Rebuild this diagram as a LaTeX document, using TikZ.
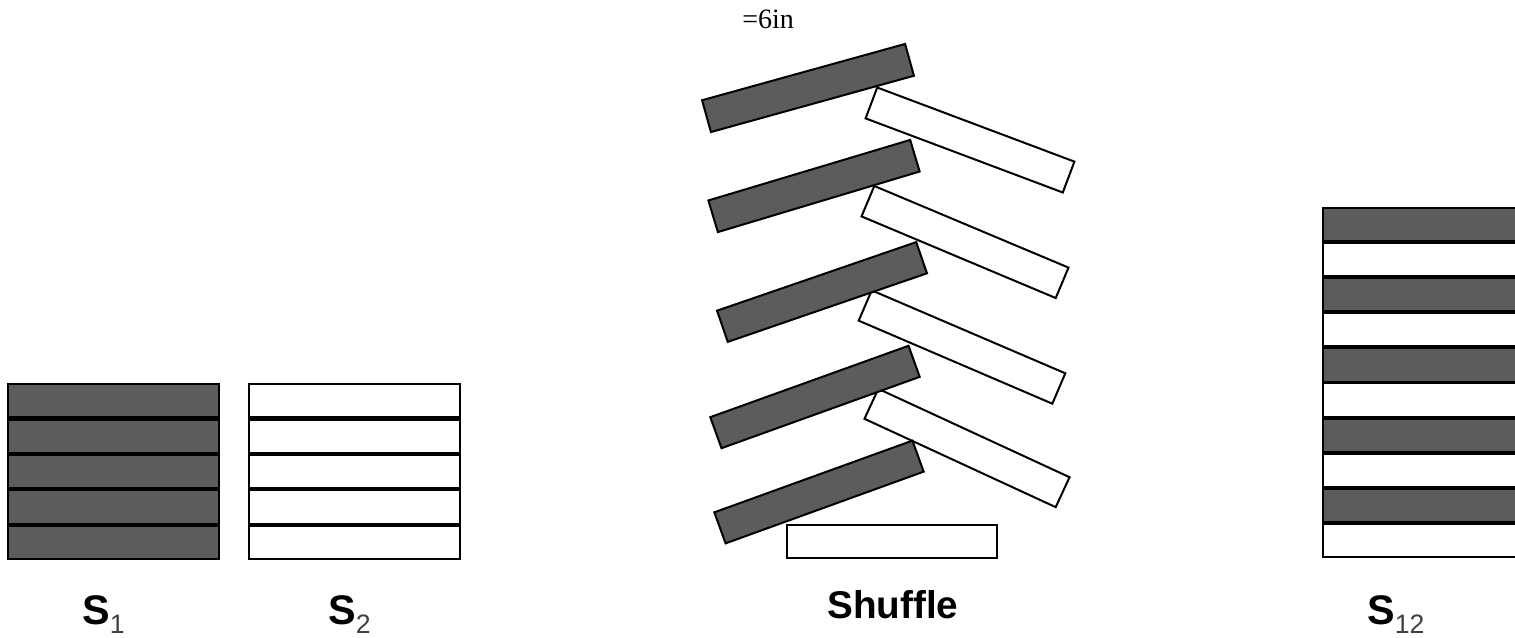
\documentclass[tikz,border=0pt]{standalone}
\usepackage{fontspec}
\setmainfont{Liberation Sans}
\newfontfamily\timesfont{Liberation Serif}
\newcommand\subidx[1]{\raisebox{-0.22em}{\mdseries\fontsize{20}{20}\selectfont\color{black!75}#1}}
\tikzset{
  card/.style={draw=black, line width=1.5pt, inner sep=0pt,
    minimum width=158pt, minimum height=24.75pt},
  darkcard/.style={card, fill=black!64},
  whitecard/.style={card, fill=white},
  stacked/.style={line width=1.6pt, minimum height=25pt},
  decklabel/.style={anchor=base west, inner sep=0pt,
    font=\fontsize{31}{31}\selectfont\bfseries}
}
\begin{document}
\begin{tikzpicture}[x=0.75pt,y=-0.75pt]
    \useasboundingbox (0,0) rectangle (1515,638);
    \node[anchor=base west, inner sep=0pt, font=\timesfont\fontsize{21}{21}\selectfont] (width) at (742,29) {=6in};
    %% first deck, all dark
    \foreach \i in {0,...,4}
        \node[darkcard,stacked] (a\i) at (113.5,{400.7+35.4*\i}) {};
    \node[decklabel] (sa) at (82,624) {S\subidx{1}};
    %% second deck, all white
    \foreach \i in {0,...,4}
        \node[whitecard,stacked] (b\i) at (354.5,{400.7+35.4*\i}) {};
    \node[decklabel] (sb) at (328,624) {S\subidx{2}};
    %% the shuffle: white cards falling in from the right
    \node[whitecard,rotate=-20.6] (w1) at (970,140) {};
    \node[whitecard,rotate=-22.8] (w2) at (965,242) {};
    \node[whitecard,rotate=-23.2] (w3) at (962,347) {};
    \node[whitecard,rotate=-24.8] (w4) at (967,448) {};
    \node[whitecard] (w5) at (892,541) {};
    %% dark cards falling in from the left
    \node[darkcard,rotate=15.5] (d1) at (808,88) {};
    \node[darkcard,rotate=16.7] (d2) at (814,186) {};
    \node[darkcard,rotate=19.0] (d3) at (822,292) {};
    \node[darkcard,rotate=19.8] (d4) at (815,397) {};
    \node[darkcard,rotate=19.9] (d5) at (819,492) {};
    \node[decklabel, font=\fontsize{29}{29}\selectfont\bfseries] (sh) at (827,618) {Shuffle};
    %% merged deck, alternating
    \foreach \i in {0,2,4,6,8}
        \node[darkcard,stacked] (c\i) at (1428.5,{224.5+35.1*\i}) {};
    \foreach \i in {1,3,5,7,9}
        \node[whitecard,stacked] (c\i) at (1428.5,{224.5+35.1*\i}) {};
    \node[decklabel] (sc) at (1367,624) {S\subidx{12}};
\end{tikzpicture}
\end{document}
